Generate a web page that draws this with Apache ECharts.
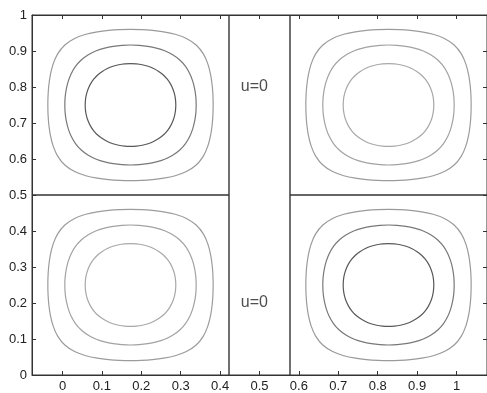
<!DOCTYPE html>
<html>
<head>
<meta charset="utf-8">
<script src="https://cdn.jsdelivr.net/npm/echarts@6/dist/echarts.min.js"></script>
<style>
html,body{margin:0;padding:0;background:#fff;}
#chart{width:487px;height:393px;}
</style>
</head>
<body>
<div id="chart"></div>
<script>
// ---- data ----
var xTicks = [0, 0.1, 0.2, 0.3, 0.4, 0.5, 0.6, 0.7, 0.8, 0.9, 1];
var xRange = [-0.0774, 1.0774];
var yRange = [0, 1];
var wallX = [0.4226, 0.5774];          // vertical dividing lines
var midY = 0.5;                         // horizontal dividing line
var cellCentersX = [0.1726, 0.8274];
var cellCentersY = [0.75, 0.25];
var levels = [0.25, 0.5, 0.75];
var radiusAngles = [0, 7.5, 15, 22.5, 30, 37.5, 45];     // degrees
var radii = {                           // contour radius (data units) per level at the angles above
  '0.25': [0.2098, 0.2110, 0.2145, 0.2200, 0.2268, 0.2330, 0.2357],
  '0.5':  [0.1667, 0.1673, 0.1688, 0.1711, 0.1738, 0.1760, 0.1768],
  '0.75': [0.1150, 0.1152, 0.1157, 0.1164, 0.1171, 0.1176, 0.1179]
};
var labelTexts = ['u=0', 'u=0'];
var labelX = [0.487, 0.487];
var labelY = [0.80, 0.20];
var darkColors = ['#9a9a9a', '#787878', '#585858'];
var lightColors = ['#9c9c9c', '#a2a2a2', '#a8a8a8'];

function contourPoints(cx, cy, rr) {
  var pts = [];
  for (var t = 0; t <= 360; t += 7.5) {
    var phi = t % 90;
    if (phi > 45) phi = 90 - phi;
    var r = rr[radiusAngles.indexOf(phi)];
    var a = t * Math.PI / 180;
    pts.push([cx + r * Math.cos(a), cy + r * Math.sin(a)]);
  }
  return pts;
}

var series = [];
cellCentersX.forEach(function (cx, i) {
  cellCentersY.forEach(function (cy, j) {
    var cols = (i === j) ? darkColors : lightColors;
    levels.forEach(function (lv, k) {
      series.push({
        type: 'line', data: contourPoints(cx, cy, radii[String(lv)]),
        smooth: 0.3, showSymbol: false, symbol: 'none', silent: true,
        lineStyle: { color: cols[k], width: 1.2 }
      });
    });
  });
});
// dividing lines
wallX.forEach(function (wx) {
  series.push({ type: 'line', data: [[wx, yRange[0]], [wx, yRange[1]]], symbol: 'none', silent: true,
    lineStyle: { color: '#333', width: 1.4 } });
});
series.push({ type: 'line', data: [[xRange[0], midY], [wallX[0], midY]], symbol: 'none', silent: true,
  lineStyle: { color: '#333', width: 1.4 } });
series.push({ type: 'line', data: [[wallX[1], midY], [xRange[1], midY]], symbol: 'none', silent: true,
  lineStyle: { color: '#333', width: 1.4 } });
// text labels
series.push({
  type: 'scatter', symbolSize: 0, silent: true,
  data: labelTexts.map(function (t, i) { return { value: [labelX[i], labelY[i]], name: t }; }),
  label: { show: true, position: 'inside', formatter: '{b}', color: '#222',
    fontFamily: 'Liberation Sans', fontSize: 16 }
});

var tickCommon = { show: true, inside: true, length: 4, lineStyle: { color: '#333' } };
var lineCommon = { show: true, onZero: false, lineStyle: { color: '#333' } };
var chart = echarts.init(document.getElementById('chart'), null, { renderer: 'canvas' });
chart.setOption({
  animation: false,
  backgroundColor: '#fff',
  grid: { left: 32, right: -2, top: 15, bottom: 18, show: true, borderColor: '#333', borderWidth: 1 },
  xAxis: [{
    type: 'value', min: xRange[0], max: xRange[1], position: 'bottom',
    axisLine: lineCommon,
    axisTick: Object.assign({ customValues: xTicks }, tickCommon),
    axisLabel: { customValues: xTicks, color: '#222', fontFamily: 'Liberation Sans', fontSize: 13, margin: 5 },
    splitLine: { show: false }
  }, {
    type: 'value', min: xRange[0], max: xRange[1], position: 'top',
    axisLine: lineCommon,
    axisTick: Object.assign({ customValues: xTicks }, tickCommon),
    axisLabel: { show: false }, splitLine: { show: false }
  }],
  yAxis: [{
    type: 'value', min: yRange[0], max: yRange[1], interval: 0.1, position: 'left',
    axisLine: lineCommon,
    axisTick: tickCommon,
    axisLabel: { color: '#222', fontFamily: 'Liberation Sans', fontSize: 13, margin: 5 },
    splitLine: { show: false }
  }, {
    type: 'value', min: yRange[0], max: yRange[1], interval: 0.1, position: 'right',
    axisLine: lineCommon,
    axisTick: tickCommon, axisLabel: { show: false }, splitLine: { show: false }
  }],
  series: series
});
</script>
</body>
</html>
